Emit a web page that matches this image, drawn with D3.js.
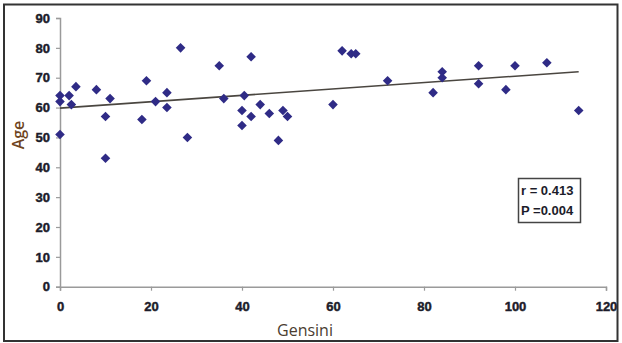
<!DOCTYPE html>
<html><head><meta charset="utf-8">
<script src="https://cdn.jsdelivr.net/npm/d3@7/dist/d3.min.js"></script>
<style>body{margin:0;background:#fff}svg{display:block}</style>
</head><body>
<svg id="c" width="622" height="343"></svg>
<script>
const gensini = [0,0,0,2,2.5,3.5,8,10,11,10,18,19,21,23.5,23.5,26.5,28,35,36,40,40,40.5,42,42,44,46,48,49,50,60,62,64,65,72,82,84,84,92,92,98,100,107,114];
const age     = [64,62,51,64,61,67,66,57,63,43,56,69,62,65,60,80,50,74,63,54,59,64,77,57,61,58,49,59,57,61,79,78,78,69,65,72,70,74,68,66,74,75,59];
const xTicks = [0,20,40,60,80,100,120];
const yTicks = [0,10,20,30,40,50,60,70,80,90];
const trendX = [0,114];
const trendY = [59.8,72.0];
const statLines = ["r = 0.413","P =0.004"];

const svg = d3.select("#c");
const x = d3.scaleLinear().domain([0,120]).range([60,606]);
const y = d3.scaleLinear().domain([0,90]).range([286.7,18]);

// outer frame
svg.append("rect").attr("x",4).attr("y",4.5).attr("width",613.5).attr("height",336.5)
  .attr("fill","none").attr("stroke","#333").attr("stroke-width",2);

const yAxis = svg.append("g").attr("transform","translate(60,0)")
  .call(d3.axisLeft(y).tickValues(yTicks).tickSize(4).tickPadding(6));
const xAxis = svg.append("g").attr("transform","translate(0,286.7)")
  .call(d3.axisBottom(x).tickValues(xTicks).tickSize(4).tickPadding(11));
[yAxis,xAxis].forEach(a=>{
  a.attr("font-family",null).attr("font-size",null);
  a.select(".domain").attr("stroke","#9a9a9a").attr("stroke-width",1.5);
  a.selectAll(".tick line").attr("stroke","#9a9a9a").attr("stroke-width",1.2);
  a.selectAll(".tick text")
    .attr("fill","#1c1c2a").attr("stroke","#1c1c2a").attr("stroke-width",0.45)
    .attr("font-family","Liberation Sans, Arial, sans-serif")
    .attr("font-size",13).attr("font-weight","bold");
});

// trend line
svg.append("line").attr("x1",x(trendX[0])).attr("y1",y(trendY[0]))
  .attr("x2",x(trendX[1])).attr("y2",y(trendY[1]))
  .attr("stroke","#4a4640").attr("stroke-width",1.6);

// points
svg.append("g").selectAll("path").data(gensini.map((g,i)=>[g,age[i]])).join("path")
  .attr("d", d3.symbol().type(d3.symbolSquare).size(46)())
  .attr("transform",d=>`translate(${x(d[0])},${y(d[1])}) rotate(45)`)
  .attr("fill","#2f2b86");

// axis titles
svg.append("text").attr("transform","translate(24,135) rotate(-90)").attr("text-anchor","middle")
  .attr("fill","#6e4420").style("font-family","Open Sans, sans-serif").style("font-size","16px").style("font-weight","600").text("Age");
svg.append("text").attr("x",305).attr("y",336).attr("text-anchor","middle")
  .attr("fill","#4a3c30").style("font-family","Open Sans, sans-serif").style("font-size","16px").text("Gensini");

// stats box
svg.append("rect").attr("x",518.5).attr("y",178.5).attr("width",62).attr("height",44)
  .attr("fill","#fff").attr("stroke","#444").attr("stroke-width",1.5);
svg.append("g").selectAll("text").data(statLines).join("text")
  .attr("x",521).attr("y",(d,i)=>195+i*20)
  .attr("fill","#1c1c2a").style("font-family","Liberation Sans Narrow, Liberation Sans, Arial, sans-serif")
  .style("font-size","13px").style("font-weight","bold").text(d=>d);
</script>
</body></html>
